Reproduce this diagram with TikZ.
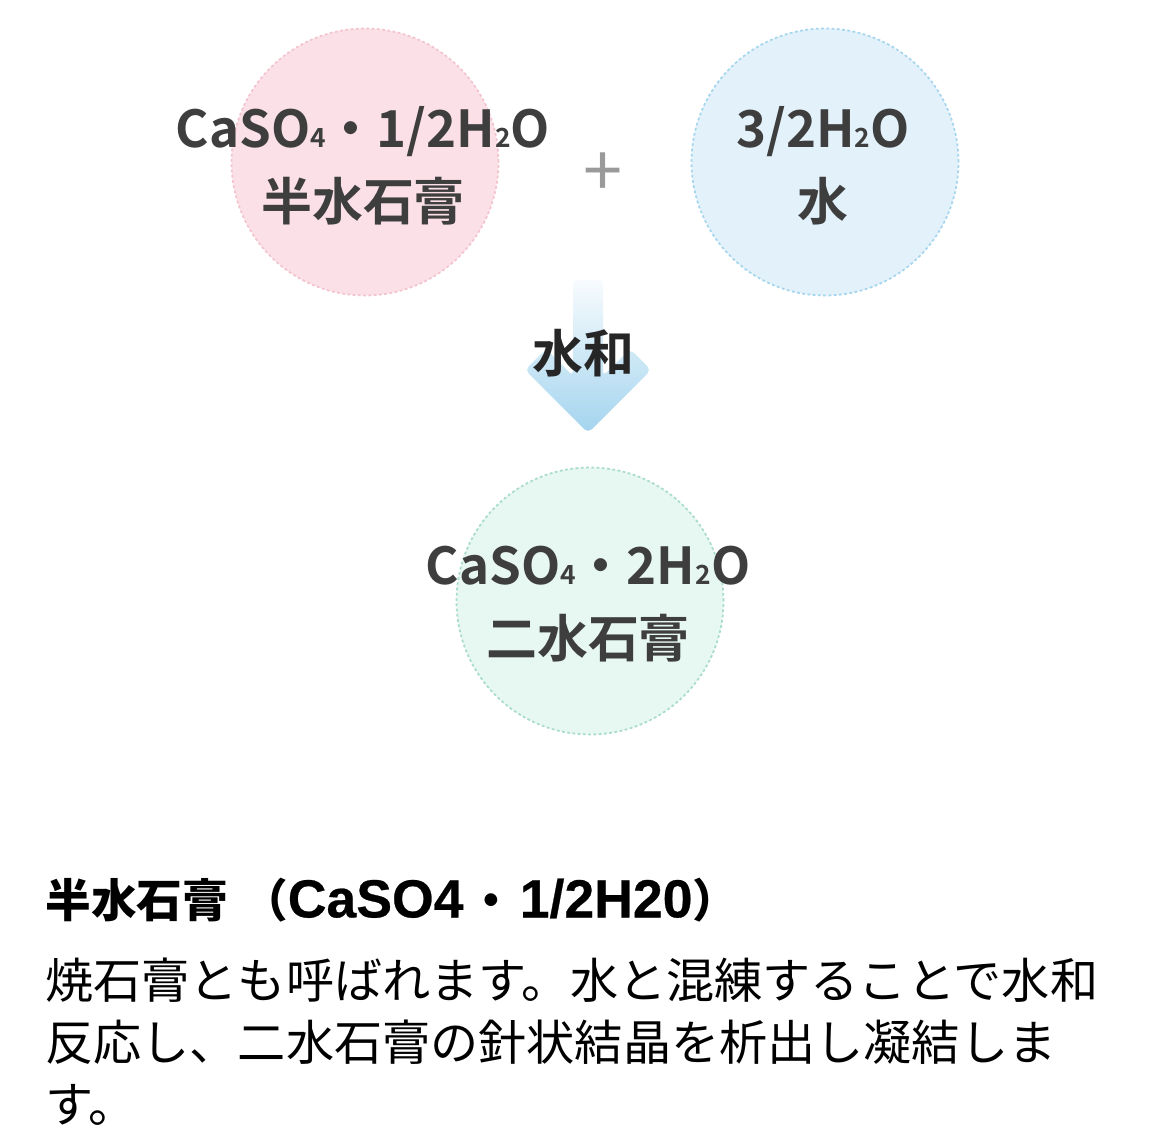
\documentclass[tikz,border=0pt]{standalone}
\usepackage{fontspec}
\setmainfont{Noto Sans CJK JP}
\newfontfamily\diagfont{Noto Sans CJK JP}[UprightFont=*, BoldFont=* Bold]
\newfontfamily\headlatin{Liberation Sans}[FakeBold=0.5]
\definecolor{pinkfill}{HTML}{FBE1E7}
\definecolor{pinkline}{HTML}{F3C3CF}
\definecolor{bluefill}{HTML}{E3F2FA}
\definecolor{blueline}{HTML}{A6D5EE}
\definecolor{greenfill}{HTML}{E7F7F2}
\definecolor{greenline}{HTML}{A9DCCB}
\definecolor{arrowblue}{HTML}{A3D4EE}
\definecolor{inkgray}{HTML}{3E3E3E}
\definecolor{plusgray}{HTML}{9A9A9A}
\newcommand{\subnum}[1]{{\fontsize{15}{15}\selectfont #1}}
\newcommand{\hl}[1]{{\headlatin\fontsize{30.5}{34}\selectfont #1}}

\begin{document}
\begin{tikzpicture}[x=0.02cm, y=-0.02cm, every node/.style={inner sep=0pt},
    ball/.style={circle, minimum size=5.34cm, line width=1pt, dash pattern=on 1.6pt off 1.4pt},
    formula/.style={font=\fontsize{29}{41.5}\selectfont\diagfont\bfseries, text=inkgray, align=center}]
    \useasboundingbox (0,0) rectangle (1157,1139);

    \node[ball, fill=pinkfill, draw=pinkline] (hemi) at (365,162) {};
    \node[ball, fill=bluefill, draw=blueline] (water) at (825,162) {};
    \node[ball, fill=greenfill, draw=greenline] (dihy) at (590,601) {};

    \node[formula] (hemitext) at (363,166) {CaSO\subnum{4}・1/2H\subnum{2}O\\半水石膏};
    \node[formula] (watertext) at (823,166) {3/2H\subnum{2}O\\水};
    \node[formula] (dihytext) at (588,604) {CaSO\subnum{4}・2H\subnum{2}O\\二水石膏};
    \node[text=plusgray, font=\fontsize{40}{40}\selectfont] (plus) at (603,175) {+};

    % hydration arrow
    \shade[top color=arrowblue!8, middle color=arrowblue!80, bottom color=arrowblue, rounded corners=3pt]
        (573,280) -- (573,376) -- (546,349) -- (525,370) -- (588,433)
        -- (651,370) -- (630,349) -- (603,376) -- (603,280) -- cycle;
    \node[formula, text=black!85] (hyd) at (583,353) {水和};

    \node[anchor=west, font=\fontsize{26}{34}\selectfont\bfseries] (head) at (45,900)
        {半水石膏\hspace{8pt}（\hl{CaSO4}\hspace{3pt}・\hspace{3pt}\hl{1/2H20}）};
    \node[anchor=north west, align=left, font=\fontsize{27.4}{35.3}\selectfont] (body) at (45,958)
        {焼石膏とも呼ばれます。水と混練することで水和\\
         反応し、二水石膏の針状結晶を析出し凝結しま\\
         す。};
\end{tikzpicture}
\end{document}
